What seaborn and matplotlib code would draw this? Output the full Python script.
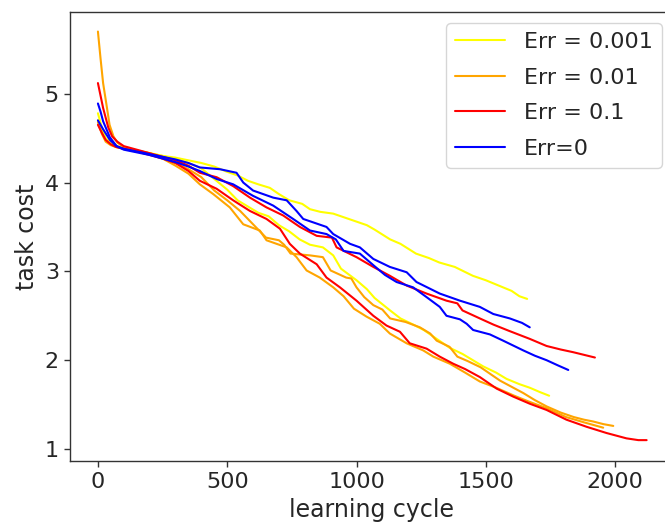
import numpy as np
import pandas as pd
import matplotlib
matplotlib.use("Agg")
import matplotlib.pyplot as plt
import seaborn as sns

# task cost vs learning cycle, two runs for each error rate
y1_x = [0, 15, 30, 50, 75, 100, 150, 200, 250, 300, 350, 400, 450, 500, 540, 580, 620, 665, 700, 740,
        790, 820, 860, 910, 960, 1000, 1040, 1070, 1130, 1170, 1230, 1280, 1320, 1380, 1450, 1500, 1550,
        1600, 1630, 1660]
y1_y = [4.78, 4.62, 4.50, 4.44, 4.41, 4.39, 4.36, 4.33, 4.30, 4.28, 4.25, 4.22, 4.18, 4.12, 4.08, 4.02,
        3.98, 3.94, 3.87, 3.80, 3.76, 3.70, 3.67, 3.65, 3.60, 3.56, 3.52, 3.47, 3.36, 3.31, 3.20, 3.15,
        3.10, 3.05, 2.95, 2.90, 2.84, 2.78, 2.72, 2.69]

y2_x = [0, 15, 30, 50, 75, 100, 150, 200, 250, 300, 350, 400, 450, 500, 540, 580, 620, 660, 700, 740,
        780, 820, 870, 910, 940, 1000, 1040, 1070, 1130, 1170, 1220, 1260, 1320, 1360, 1410, 1450, 1490,
        1540, 1580, 1630, 1670, 1710, 1745]
y2_y = [4.70, 4.58, 4.48, 4.43, 4.40, 4.38, 4.36, 4.33, 4.30, 4.26, 4.22, 4.16, 4.04, 3.92, 3.80, 3.73,
        3.66, 3.62, 3.52, 3.45, 3.36, 3.30, 3.27, 3.18, 3.03, 2.90, 2.80, 2.70, 2.56, 2.47, 2.40, 2.34,
        2.22, 2.14, 2.07, 2.00, 1.93, 1.86, 1.79, 1.73, 1.69, 1.64, 1.60]

o1_x = [0, 10, 20, 35, 45, 60, 75, 100, 150, 200, 250, 300, 350, 400, 450, 500, 550, 600, 650, 700,
        720, 745, 820, 870, 900, 960, 980, 1000, 1030, 1065, 1100, 1130, 1190, 1245, 1285, 1310, 1360,
        1390, 1430, 1480, 1555, 1600, 1645, 1690, 1735, 1790, 1840, 1880, 1915, 1955, 1993]
o1_y = [5.70, 5.40, 5.12, 4.84, 4.65, 4.52, 4.45, 4.40, 4.36, 4.33, 4.28, 4.22, 4.15, 4.06, 3.91, 3.80,
        3.68, 3.53, 3.38, 3.35, 3.30, 3.20, 3.18, 3.16, 3.01, 2.93, 2.92, 2.82, 2.71, 2.62, 2.57, 2.47,
        2.43, 2.37, 2.30, 2.22, 2.15, 2.04, 1.99, 1.92, 1.77, 1.70, 1.63, 1.55, 1.48, 1.41, 1.36, 1.33,
        1.31, 1.28, 1.26]

o2_x = [0, 15, 30, 50, 70, 100, 150, 200, 250, 300, 350, 394, 446, 510, 562, 626, 652, 730, 768, 807,
        858, 910, 950, 990, 1039, 1090, 1129, 1194, 1258, 1297, 1361, 1420, 1477, 1540, 1610, 1670, 1735,
        1810, 1880, 1954]
o2_y = [4.68, 4.55, 4.46, 4.42, 4.40, 4.38, 4.35, 4.32, 4.27, 4.19, 4.10, 3.98, 3.87, 3.72, 3.53, 3.46,
        3.35, 3.27, 3.16, 3.01, 2.93, 2.82, 2.72, 2.58, 2.49, 2.41, 2.30, 2.19, 2.11, 2.04, 1.96, 1.86,
        1.76, 1.69, 1.60, 1.53, 1.46, 1.36, 1.30, 1.24]

r1_x = [0, 10, 20, 40, 55, 75, 100, 150, 200, 250, 300, 350, 394, 459, 523, 588, 652, 716, 781, 846,
        905, 923, 1000, 1065, 1129, 1194, 1271, 1348, 1390, 1410, 1477, 1530, 1590, 1670, 1735, 1790,
        1838, 1880, 1922]
r1_y = [5.12, 4.98, 4.84, 4.62, 4.52, 4.46, 4.41, 4.37, 4.33, 4.29, 4.25, 4.19, 4.11, 4.06, 3.96, 3.83,
        3.72, 3.63, 3.50, 3.40, 3.38, 3.27, 3.16, 3.05, 2.95, 2.84, 2.75, 2.67, 2.64, 2.56, 2.47, 2.40,
        2.33, 2.24, 2.16, 2.12, 2.09, 2.06, 2.03]

r2_x = [0, 15, 30, 50, 70, 100, 150, 200, 250, 300, 350, 394, 459, 523, 588, 652, 704, 742, 781, 846,
        884, 936, 1000, 1065, 1116, 1168, 1206, 1271, 1322, 1374, 1420, 1477, 1542, 1606, 1670, 1735,
        1812, 1890, 1967, 2044, 2090, 2122]
r2_y = [4.65, 4.56, 4.48, 4.43, 4.40, 4.38, 4.35, 4.31, 4.27, 4.22, 4.13, 4.02, 3.93, 3.80, 3.68, 3.59,
        3.48, 3.31, 3.20, 3.08, 2.93, 2.82, 2.67, 2.50, 2.39, 2.32, 2.19, 2.13, 2.04, 1.96, 1.90, 1.81,
        1.68, 1.59, 1.51, 1.44, 1.33, 1.25, 1.18, 1.12, 1.10, 1.10]

b1_x = [0, 10, 20, 46, 72, 100, 150, 200, 250, 300, 350, 394, 472, 536, 562, 600, 678, 730, 768, 794,
        884, 910, 975, 1013, 1065, 1129, 1194, 1232, 1322, 1400, 1477, 1529, 1593, 1640, 1670]
b1_y = [4.89, 4.80, 4.69, 4.51, 4.41, 4.38, 4.35, 4.32, 4.29, 4.26, 4.22, 4.17, 4.15, 4.11, 4.00, 3.91,
        3.83, 3.80, 3.68, 3.59, 3.50, 3.42, 3.31, 3.27, 3.14, 3.05, 2.99, 2.88, 2.75, 2.67, 2.60, 2.52,
        2.47, 2.42, 2.37]

b2_x = [0, 20, 46, 72, 100, 150, 200, 250, 300, 350, 394, 459, 523, 600, 678, 755, 820, 884, 920, 950,
        1013, 1065, 1110, 1155, 1219, 1271, 1322, 1348, 1400, 1426, 1451, 1516, 1567, 1645, 1690, 1735,
        1780, 1819]
b2_y = [4.70, 4.60, 4.48, 4.41, 4.37, 4.34, 4.31, 4.27, 4.23, 4.18, 4.13, 4.04, 3.98, 3.85, 3.74, 3.59,
        3.46, 3.42, 3.36, 3.23, 3.20, 3.07, 2.96, 2.88, 2.82, 2.71, 2.60, 2.50, 2.46, 2.41, 2.34, 2.29,
        2.22, 2.11, 2.05, 2.00, 1.94, 1.89]

labels = ["Err = 0.001", "Err = 0.01", "Err = 0.1", "Err=0"]
colors = ["yellow", "orange", "red", "blue"]
runs = [[(y1_x, y1_y), (y2_x, y2_y)],
        [(o1_x, o1_y), (o2_x, o2_y)],
        [(r1_x, r1_y), (r2_x, r2_y)],
        [(b1_x, b1_y), (b2_x, b2_y)]]

sns.set_style("ticks")
plt.rcParams["font.family"] = ["DejaVu Sans"]

fig = plt.figure(figsize=(6.65, 5.29), dpi=100)
# axes run past the right edge, the reference picture is cropped there
ax = fig.add_axes([70 / 665, 68 / 529, 603 / 665, 449 / 529])

for lab, col, pair in zip(labels, colors, runs):
    for i, (xs, ys) in enumerate(pair):
        df = pd.DataFrame({"cycle": xs, "cost": ys})
        sns.lineplot(data=df, x="cycle", y="cost", color=col, linewidth=1.5,
                     label=lab if i == 0 else None, ax=ax, legend=False)

ax.set_xlim(-108, 2224)
ax.set_ylim(0.865, 5.92)
ax.set_xticks([0, 500, 1000, 1500, 2000])
ax.set_yticks([1, 2, 3, 4, 5])
ax.tick_params(labelsize=16, length=4.5, width=1, color="#333333")
ax.set_xlabel("learning cycle", fontsize=17)
ax.set_ylabel("task cost", fontsize=17)
for s in ax.spines.values():
    s.set_color("#333333")
    s.set_linewidth(1)
ax.legend(loc="upper right", fontsize=16, labelspacing=0.7, handlelength=2.25,
          handletextpad=0.85)

fig.savefig("out.png", dpi=100)
